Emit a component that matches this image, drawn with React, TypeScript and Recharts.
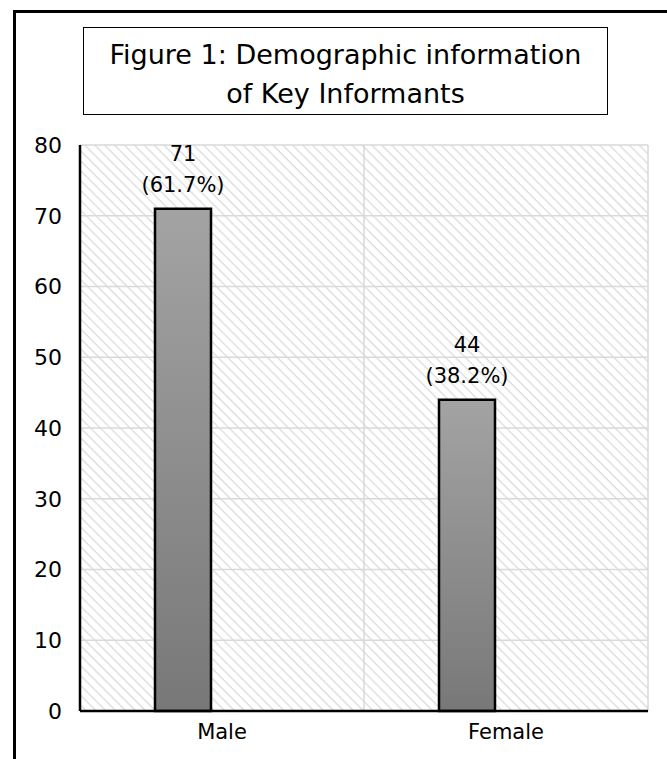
import { BarChart, Bar, XAxis, YAxis, CartesianGrid, LabelList } from "recharts";

const categories = ["Male", "Female"];
const counts = [71, 44];
const percents = [61.7, 38.2];
// the source chart has a second, empty series that pushes the bars left of centre
const emptySeries = [null, null];
const yTicks = [0, 10, 20, 30, 40, 50, 60, 70, 80];

const FONT = "'DejaVu Sans', 'Noto Sans', sans-serif";

const data = categories.map((name, i) => ({
  name,
  count: counts[i],
  pct: percents[i],
  blank: emptySeries[i],
}));

function ValueLabel(props: any) {
  const { x, y, width, index } = props;
  const cx = x + width / 2;
  return (
    <g>
      <text x={cx} y={y - 55} textAnchor="middle" dominantBaseline="central" fontSize={21} fill="#000" fontFamily={FONT}>
        {counts[index]}
      </text>
      <text x={cx} y={y - 24} textAnchor="middle" dominantBaseline="central" fontSize={21} fill="#000" fontFamily={FONT}>
        ({percents[index].toFixed(1)}%)
      </text>
    </g>
  );
}

export default function App() {
  return (
    <div style={{ position: "absolute", left: 0, top: 0, width: 667, height: 759, background: "#fff", fontFamily: FONT, overflow: "hidden" }}>
      {/* outer frame, right/bottom edges cut off in the source */}
      <div
        style={{
          position: "absolute",
          left: 13,
          top: 10,
          width: 654,
          height: 749,
          borderLeft: "3px solid #000",
          borderTop: "3px solid #000",
          boxSizing: "border-box",
        }}
      />

      <div style={{ position: "absolute", left: 0, top: 0 }}>
        <BarChart
          width={667}
          height={759}
          data={data}
          margin={{ top: 145, right: 19, bottom: 8, left: 0 }}
          barSize={56}
          barGap={22}
        >
          <defs>
            <pattern id="hatch" width="7" height="7" patternUnits="userSpaceOnUse" patternTransform="rotate(45)">
              <rect width="7" height="7" fill="#fff" />
              <line x1="0" y1="0" x2="7" y2="0" stroke="#dadada" strokeWidth="2.5" />
            </pattern>
            <linearGradient id="barFill" x1="0" y1="0" x2="0" y2="1">
              <stop offset="0%" stopColor="#a3a3a3" />
              <stop offset="100%" stopColor="#787878" />
            </linearGradient>
          </defs>
          <CartesianGrid
            fill="url(#hatch)"
            fillOpacity={1}
            stroke="#d9d9d9"
            strokeWidth={1.5}
            verticalCoordinatesGenerator={({ offset }: any) => [
              offset.left + offset.width / 2,
              offset.left + offset.width,
            ]}
          />
          <XAxis
            dataKey="name"
            height={40}
            tickLine={false}
            tickMargin={7}
            axisLine={{ stroke: "#000", strokeWidth: 2.5 }}
            tick={{ fill: "#000", fontSize: 21, fontFamily: FONT }}
          />
          <YAxis
            width={80}
            domain={[0, 80]}
            ticks={yTicks}
            tickLine={false}
            tickMargin={12}
            axisLine={{ stroke: "#000", strokeWidth: 2.5 }}
            tick={{ fill: "#000", fontSize: 22, fontFamily: FONT }}
          />
          <Bar dataKey="count" fill="url(#barFill)" stroke="#000" strokeWidth={2.5} isAnimationActive={false}>
            <LabelList dataKey="count" content={<ValueLabel />} />
          </Bar>
          <Bar dataKey="blank" fill="none" isAnimationActive={false} />
        </BarChart>
      </div>

      {/* title box */}
      <div
        style={{
          position: "absolute",
          left: 83,
          top: 27,
          width: 525,
          height: 88,
          border: "1.5px solid #000",
          boxSizing: "border-box",
          background: "#fff",
          textAlign: "center",
          fontSize: 27,
          lineHeight: "39px",
          paddingTop: 7,
          color: "#000",
          whiteSpace: "nowrap",
        }}
      >
        Figure 1: Demographic information
        <br />
        of Key Informants
      </div>
    </div>
  );
}
